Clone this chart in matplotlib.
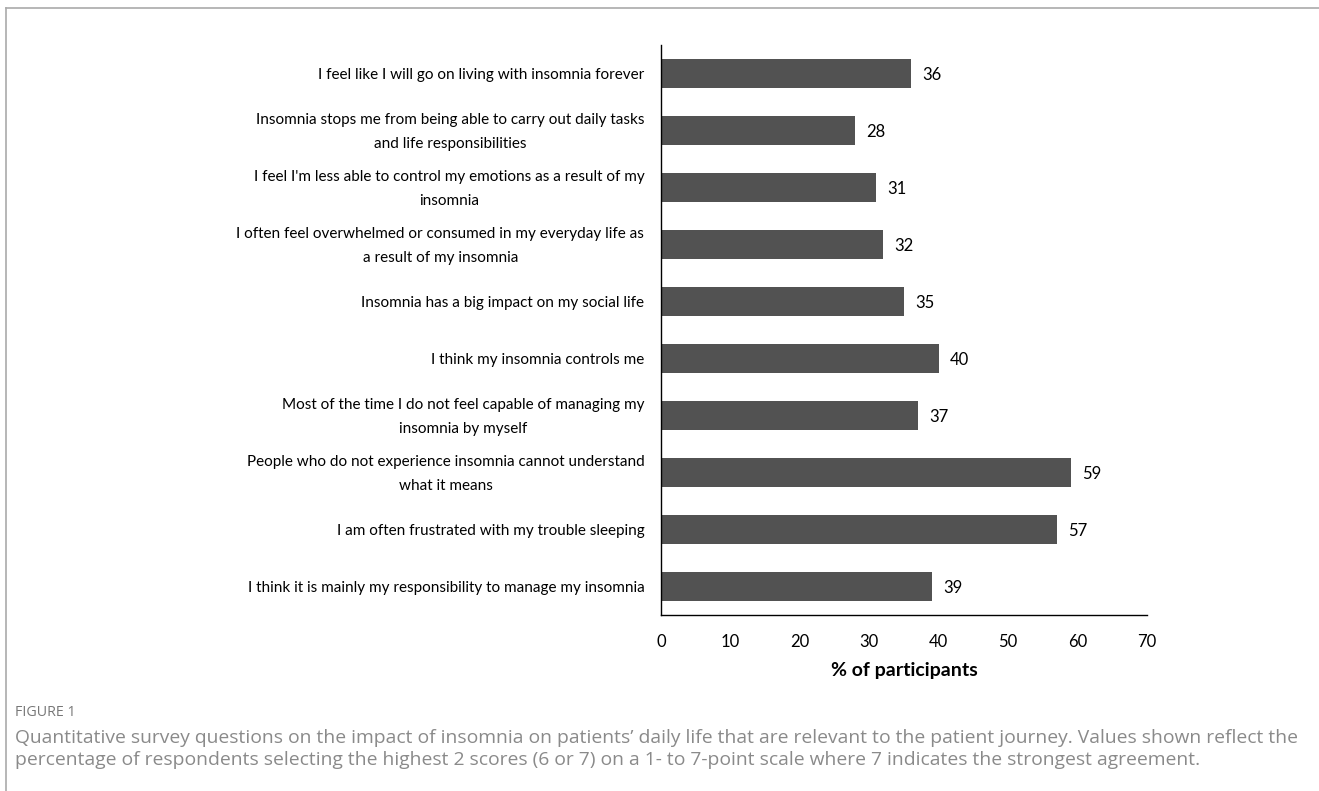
import matplotlib
matplotlib.use("Agg")
import matplotlib.pyplot as plt
from matplotlib.lines import Line2D

categories = [
    "I feel like I will go on living with insomnia forever",
    "Insomnia stops me from being able to carry out daily tasks\nand life responsibilities",
    "I feel I'm less able to control my emotions as a result of my\ninsomnia",
    "I often feel overwhelmed or consumed in my everyday life as\na result of my insomnia",
    "Insomnia has a big impact on my social life",
    "I think my insomnia controls me",
    "Most of the time I do not feel capable of managing my\ninsomnia by myself",
    "People who do not experience insomnia cannot understand\nwhat it means",
    "I am often frustrated with my trouble sleeping",
    "I think it is mainly my responsibility to manage my insomnia",
]
values = [36, 28, 31, 32, 35, 40, 37, 59, 57, 39]
xticks = [0, 10, 20, 30, 40, 50, 60, 70]

W, H = 1319, 791
fig = plt.figure(figsize=(W / 100, H / 100), dpi=100)
ax = fig.add_axes([661 / W, 1 - 615 / H, (1147 - 661) / W, (615 - 45) / H])

font = "Lato"
pos = list(range(len(categories)))
ax.barh(pos, values, height=0.5, color="#525252")
ax.set_ylim(len(categories) - 0.5, -0.5)
ax.set_xlim(0, 70)
ax.set_xticks(xticks)
ax.set_xticklabels([str(t) for t in xticks], fontsize=12, family=font)
ax.set_yticks([])
ax.tick_params(axis="both", length=0, colors="#000000")
ax.tick_params(axis="x", pad=14)
for s in ["top", "right"]:
    ax.spines[s].set_visible(False)
for s in ["left", "bottom"]:
    ax.spines[s].set_color("#000000")
    ax.spines[s].set_linewidth(1.0)
ax.set_xlabel("% of participants", fontsize=14, fontweight="bold", family=font, labelpad=8)

# category labels (drawn as text so line spacing can be set)
for p, c in zip(pos, categories):
    ax.annotate(c, (0, p), xytext=(-12, -1.2), textcoords="offset points",
                va="center", ha="right", multialignment="center", linespacing=1.85,
                fontsize=11.0, family=font, annotation_clip=False)

for p, v in zip(pos, values):
    ax.annotate(str(v), (v, p), xytext=(8, -0.8), textcoords="offset points",
                va="center", ha="left", fontsize=12, family=font)

# frame lines
fig.add_artist(Line2D([6 / W, 1], [1 - 8 / H, 1 - 8 / H], color="#aaaaaa", lw=1.2))
fig.add_artist(Line2D([6 / W, 6 / W], [0, 1 - 8 / H], color="#aaaaaa", lw=1.2))

cap = "Open Sans"
fig.text(15 / W, 1 - 712 / H, "FIGURE 1", fontsize=10.3, color="#777777", family=cap, va="center")
fig.text(15 / W, 1 - 738 / H,
         "Quantitative survey questions on the impact of insomnia on patients\u2019 daily life that are relevant to the patient journey. Values shown reflect the",
         fontsize=13.9, color="#8a8a8a", family=cap, va="center")
fig.text(15 / W, 1 - 760 / H,
         "percentage of respondents selecting the highest 2 scores (6 or 7) on a 1- to 7-point scale where 7 indicates the strongest agreement.",
         fontsize=13.9, color="#8a8a8a", family=cap, va="center")

fig.savefig("out.png", dpi=100, facecolor="white")
